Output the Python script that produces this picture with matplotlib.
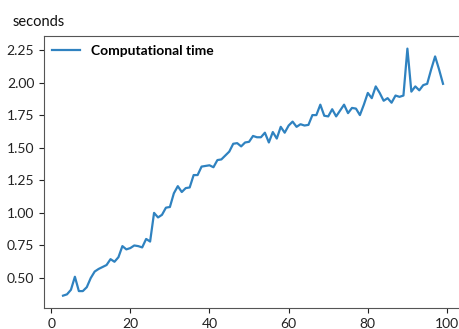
import matplotlib
matplotlib.use("Agg")
import matplotlib.pyplot as plt
import numpy as np

# Werte (x = 3 ... 99)
sizes = list(range(3, 100))
comp_time = [
    0.365, 0.375, 0.41, 0.51, 0.40, 0.40, 0.43, 0.50, 0.55, 0.57,      # 3-12
    0.585, 0.60, 0.645, 0.625, 0.66, 0.745, 0.72, 0.73, 0.75, 0.745,   # 13-22
    0.735, 0.80, 0.78, 1.00, 0.965, 0.985, 1.04, 1.045, 1.15, 1.205,   # 23-32
    1.16, 1.19, 1.195, 1.29, 1.29, 1.355, 1.36, 1.365, 1.35, 1.405,    # 33-42
    1.41, 1.44, 1.47, 1.53, 1.535, 1.51, 1.54, 1.545, 1.59, 1.58,      # 43-52
    1.58, 1.615, 1.54, 1.62, 1.57, 1.66, 1.615, 1.67, 1.70, 1.66,      # 53-62
    1.68, 1.67, 1.675, 1.75, 1.75, 1.83, 1.745, 1.74, 1.795, 1.74,     # 63-72
    1.785, 1.83, 1.765, 1.805, 1.80, 1.75, 1.83, 1.92, 1.88, 1.97,     # 73-82
    1.92, 1.86, 1.88, 1.845, 1.90, 1.89, 1.90, 2.26, 1.93, 1.97,       # 83-92
    1.94, 1.98, 1.99, 2.10, 2.20, 2.10, 1.99,                          # 93-99
]
x_ticks = [0, 20, 40, 60, 80, 100]
y_ticks = [0.50, 0.75, 1.00, 1.25, 1.50, 1.75, 2.00, 2.25]

plt.rcParams['font.family'] = ['Lato', 'DejaVu Sans']

fig = plt.figure(figsize=(4.6, 3.29), dpi=100)
ax = fig.add_axes([0.0957, 0.0638, 0.9087, 0.826])

ax.plot(sizes, comp_time, color='#2f82c0', linewidth=1.6, label='Computational time')

ax.set_xticks(x_ticks)
ax.set_yticks(y_ticks)
ax.set_yticklabels([f"{v:.2f}" for v in y_ticks])
ax.tick_params(axis='both', labelsize=10, colors='#222222', length=3.5)
for sp in ax.spines.values():
    sp.set_color('#555555')

# Legende ohne Rahmen, etwas näher an der Ecke
leg = ax.legend(loc='upper left', frameon=False, borderaxespad=0.2,
                prop={'weight': 'bold', 'size': 10})

fig.text(0.028, 0.934, "seconds", fontsize=10.5, color='#111111', va='center')

fig.savefig("out.png", dpi=100)
